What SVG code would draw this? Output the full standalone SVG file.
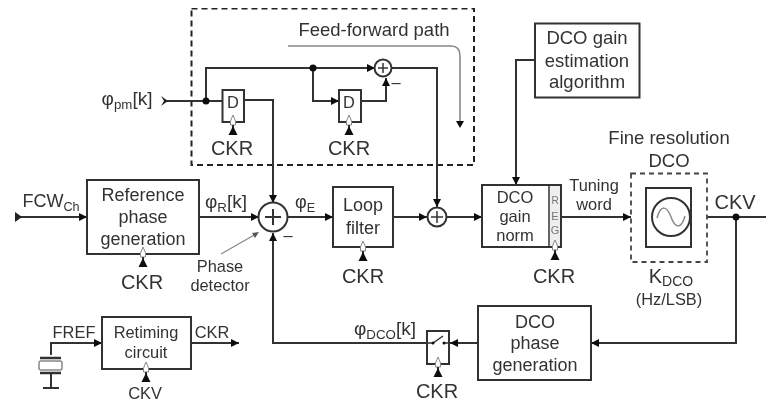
<svg xmlns="http://www.w3.org/2000/svg" width="766" height="408" viewBox="0 0 766 408">
<style>
text{font-family:"Liberation Sans",Arial,sans-serif;fill:#333;text-anchor:middle;font-size:18px}
.m{font-size:18.500px}.s{font-size:16.400px}.c{font-size:20px}.ph{font-size:19px}.n{font-size:16.500px}
.sub{font-size:70%}
.b{fill:#fff;stroke:#333;stroke-width:2}
.l{fill:none;stroke:#333;stroke-width:2}
.d{fill:none;stroke:#222;stroke-width:2;stroke-dasharray:6 4}
.g{fill:none;stroke:#888;stroke-width:1.600}
.dot{fill:#111}
.ck{fill:#fff;stroke:#888;stroke-width:1}
</style>
<defs>
<marker id="a" markerWidth="10" markerHeight="10" refX="8" refY="4" orient="auto" markerUnits="userSpaceOnUse"><path d="M0 0L8 4L0 8Z" fill="#111"/></marker>
<filter id="blur" x="0" y="0" width="100%" height="100%"><feGaussianBlur stdDeviation="0.55"/></filter>
<g id="clk"><path class="ck" d="M0 0L-2.500 6V10H2.500V6Z"/><path class="l" d="M0 10V14"/><path d="M0 11L-4.500 20H4.500Z" fill="#111"/></g>
</defs>
<rect width="766" height="408" fill="#fff"/>
<g filter="url(#blur)">
<g id="feedforward-box"><rect class="d" x="191.500" y="8.500" width="282.500" height="156.500"/>
<text x="374" y="36" class="m">Feed-forward path</text>
<path class="g" d="M288 46H451Q460 46 460 56V124"/><path d="M456 121H464L460 128Z" fill="#111"/></g>
<g id="connectors">
<path class="l" d="M166 101H222"/><path d="M161 96L168 101L161 106L164 101Z" fill="#222"/>
<path class="l" d="M206 101V68H375" marker-end="url(#a)"/>
<path class="l" d="M313 68V101H339" marker-end="url(#a)"/>
<path class="l" d="M244 100H273V203" marker-end="url(#a)"/>
<path class="l" d="M361 101H386V78" marker-end="url(#a)"/>
<path class="l" d="M392 68H437V207" marker-end="url(#a)"/>
<path class="l" d="M535 60H516V185" marker-end="url(#a)"/>
<path class="l" d="M17 217H87" marker-end="url(#a)"/><path d="M15 212L22 217L15 222Z" fill="#222"/>
<path class="l" d="M199 217H259" marker-end="url(#a)"/>
<path class="l" d="M288 217H333" marker-end="url(#a)"/>
<path class="l" d="M393 217H427" marker-end="url(#a)"/>
<path class="l" d="M447 217H482" marker-end="url(#a)"/>
<path class="l" d="M561 217H631" marker-end="url(#a)"/>
<path class="l" d="M707 217H766"/>
<path class="l" d="M736 217V343H591" marker-end="url(#a)"/>
<path class="l" d="M478 343H450" marker-end="url(#a)"/>
<path class="l" d="M427 343H273V233" marker-end="url(#a)"/>
<path class="l" d="M51 355V343H102" marker-end="url(#a)"/>
<path class="l" d="M191 343H239" marker-end="url(#a)"/>
<path d="M221 254L256 234" fill="none" stroke="#888" stroke-width="1.200"/><path d="M252 233L259 232L255 238Z" fill="#555"/>
<circle class="dot" cx="206" cy="101" r="3.500"/><circle class="dot" cx="313" cy="68" r="3.500"/><circle class="dot" cx="736" cy="217" r="3.500"/>
</g>
<g id="d1"><rect class="b" x="222.500" y="90" width="21.500" height="32"/><text x="233" y="108" class="s">D</text><use href="#clk" x="233" y="115"/><text x="232" y="155" class="c">CKR</text></g>
<g id="d2"><rect class="b" x="339" y="90" width="22" height="32"/><text x="349" y="108" class="s">D</text><use href="#clk" x="349" y="115"/><text x="349" y="155" class="c">CKR</text></g>
<g id="sum-ff"><circle class="b" cx="383" cy="68" r="8.500"/><path class="l" style="stroke-width:1.500" d="M378 68H388M383 63V73"/><text x="396" y="88" class="s">–</text></g>
<g id="dco-gain-est"><rect class="b" x="535" y="23.500" width="104.500" height="74"/><text x="587" y="44" class="m">DCO gain</text><text x="587" y="67" class="m">estimation</text><text x="587" y="88" class="m">algorithm</text></g>
<g id="phase-pm"><text x="127" y="105" class="ph">φ<tspan class="sub" dy="4">pm</tspan><tspan dy="-4">[k]</tspan></text></g>
<g id="fcw"><text x="51" y="207">FCW<tspan class="sub" dy="4">Ch</tspan></text></g>
<g id="reference"><rect class="b" x="87" y="180" width="112" height="74"/><text x="143" y="201">Reference</text><text x="143" y="223">phase</text><text x="143" y="245">generation</text><use href="#clk" x="143" y="247"/><text x="142" y="289" class="c">CKR</text></g>
<g id="phir"><text x="226" y="208" class="ph">φ<tspan class="sub" dy="4">R</tspan><tspan dy="-4">[k]</tspan></text></g>
<g id="sum-pd"><circle class="b" cx="273" cy="217" r="14.500"/><path class="l" d="M265 217H281M273 209V225"/><text x="288" y="241" class="s">–</text><text x="220" y="272" class="s">Phase</text><text x="220" y="291" class="s">detector</text></g>
<g id="phie"><text x="305" y="208">φ<tspan class="sub" dy="4">E</tspan></text></g>
<g id="loop"><rect class="b" x="333" y="187" width="60" height="60"/><text x="363" y="211">Loop</text><text x="363" y="234">filter</text><use href="#clk" x="363" y="241"/><text x="363" y="283" class="c">CKR</text></g>
<g id="sum2"><circle class="b" cx="437" cy="217" r="9.500"/><path class="l" style="stroke-width:1.500" d="M431 217H443M437 211V223"/></g>
<g id="norm"><rect class="b" x="482" y="185" width="79" height="62"/><path d="M549 185V247" stroke="#333" stroke-width="1.500"/><rect x="550" y="186" width="10" height="60" fill="#eee"/><text x="515" y="203" class="n">DCO</text><text x="515" y="222" class="n">gain</text><text x="515" y="241" class="n">norm</text>
<text x="555" y="204" style="font-size:10px;fill:#777">R</text><text x="555" y="220" style="font-size:11px;fill:#777">E</text><text x="555" y="234" style="font-size:11px;fill:#777">G</text><use href="#clk" x="555" y="240"/><text x="554" y="283" class="c">CKR</text></g>
<g id="tuning"><text x="594" y="191" class="s">Tuning</text><text x="594" y="210" class="s">word</text></g>
<g id="dco"><text x="669" y="144" class="m">Fine resolution</text><text x="669" y="167" class="m">DCO</text>
<rect x="631" y="173.500" width="76" height="88.500" fill="#fff" stroke="#444" stroke-width="1.800" stroke-dasharray="5 4"/><rect class="b" x="646" y="188" width="45" height="59"/><circle fill="#fff" stroke="#333" stroke-width="2" cx="671" cy="217" r="19"/><path d="M657 218C661 204 667 206 671 217S681 230 685 216" fill="none" stroke="#888" stroke-width="1.500"/>
<text x="671" y="283" class="c">K<tspan class="sub" dy="3">DCO</tspan></text><text x="669" y="305" class="s">(Hz/LSB)</text></g>
<g id="ckv"><text x="735" y="209" class="c">CKV</text></g>
<g id="retiming"><rect class="b" x="102" y="317" width="89" height="52"/><text x="146" y="338" class="s">Retiming</text><text x="146" y="358" class="s">circuit</text><use href="#clk" x="146" y="362"/><text x="145" y="399" class="s">CKV</text></g>
<g id="labels"><text x="74" y="338" class="s">FREF</text><text x="212" y="338" class="s">CKR</text></g>
<g id="crystal"><rect x="39" y="361" width="23" height="9" rx="2" fill="#fff" stroke="#888" stroke-width="1.500"/><path class="l" style="stroke-width:2.500" d="M40 358H61M40 373H61"/><path class="l" d="M51 373V388M43 388H59"/></g>
<g id="phidco"><text x="385" y="335" class="ph">φ<tspan class="sub" dy="4">DCO</tspan><tspan dy="-4">[k]</tspan></text></g>
<g id="switch"><rect class="b" x="427" y="331" width="22" height="33"/><path class="l" style="stroke-width:1.500" d="M427 343H433L443 336M444 343H449"/><circle class="dot" cx="433" cy="343" r="1.500"/><circle class="dot" cx="444" cy="343" r="1.500"/><use href="#clk" x="438" y="357"/><text x="437" y="398" class="c">CKR</text></g>
<g id="dco-phase"><rect class="b" x="478" y="306" width="113" height="74"/><text x="535" y="328">DCO</text><text x="535" y="349">phase</text><text x="535" y="371">generation</text></g>
</g>
</svg>
